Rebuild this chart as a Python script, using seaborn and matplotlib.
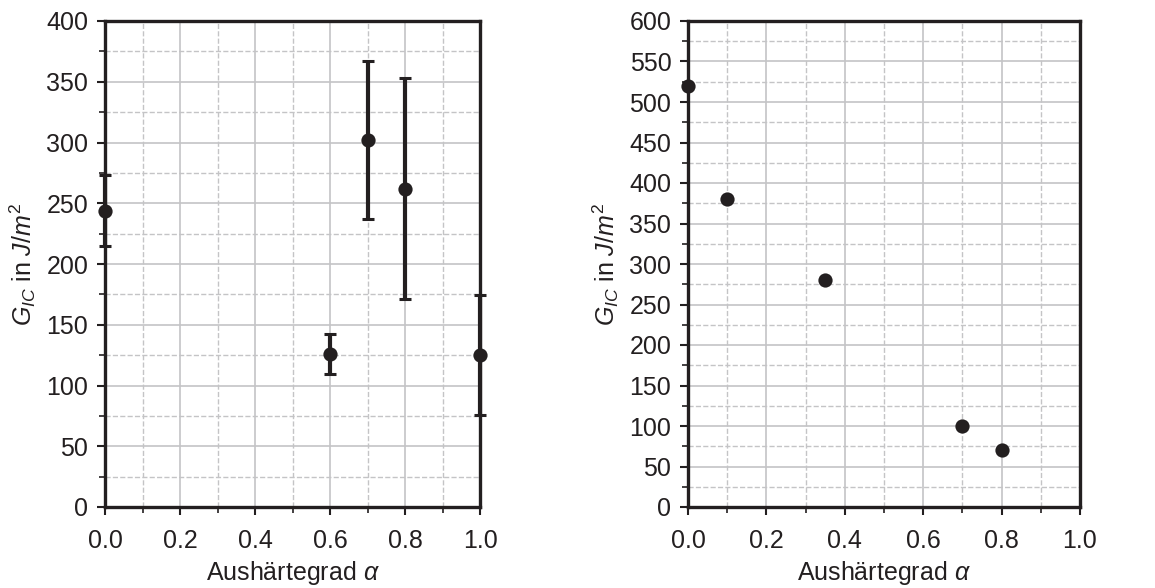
import matplotlib
matplotlib.use("Agg")
import matplotlib.pyplot as plt
import seaborn as sns
import pandas as pd
from matplotlib.ticker import MultipleLocator
from matplotlib import font_manager

# Data
alpha_left = [0.0, 0.6, 0.7, 0.8, 1.0]
gic_left = [244, 126, 302, 262, 125]
gic_left_err = [29, 16.5, 65, 91, 49.5]

alpha_right = [0.0, 0.1, 0.35, 0.7, 0.8]
gic_right = [520, 380, 280, 100, 70]

xticks = [0.0, 0.2, 0.4, 0.6, 0.8, 1.0]

names = sorted({f.name for f in font_manager.fontManager.ttflist})
fam = 'Liberation Sans Narrow' if 'Liberation Sans Narrow' in names else 'Liberation Sans'

sns.set_theme(style="white")
plt.rcParams['font.family'] = [fam, 'DejaVu Sans']
plt.rcParams['mathtext.fontset'] = 'custom'
plt.rcParams['mathtext.rm'] = fam
plt.rcParams['mathtext.it'] = fam + ':italic'
plt.rcParams['mathtext.bf'] = fam + ':bold'

dark = '#231f20'
fig = plt.figure(figsize=(11.55, 5.88), dpi=100)
ax1 = fig.add_axes([105/1155, 1-507/588, 375/1155, 486/588])
ax2 = fig.add_axes([688/1155, 1-507/588, 392/1155, 486/588])

df_l = pd.DataFrame({'alpha': alpha_left, 'gic': gic_left})
df_r = pd.DataFrame({'alpha': alpha_right, 'gic': gic_right})

ax1.errorbar(alpha_left, gic_left, yerr=gic_left_err, fmt='none', ecolor=dark,
             elinewidth=3.0, capsize=4.5, capthick=2.2, clip_on=False, zorder=3)
sns.scatterplot(data=df_l, x='alpha', y='gic', ax=ax1, color=dark, s=105,
                edgecolor=dark, linewidth=0, clip_on=False, zorder=4)
sns.scatterplot(data=df_r, x='alpha', y='gic', ax=ax2, color=dark, s=105,
                edgecolor=dark, linewidth=0, clip_on=False, zorder=4)

fs = 21 if fam.endswith('Narrow') else 18
for ax, ymax in ((ax1, 400), (ax2, 600)):
    ax.set_xlim(0, 1.0)
    ax.set_ylim(0, ymax)
    ax.set_xticks(xticks)
    ax.xaxis.set_minor_locator(MultipleLocator(0.1))
    ax.yaxis.set_major_locator(MultipleLocator(50))
    ax.yaxis.set_minor_locator(MultipleLocator(25))
    ax.grid(True, which='major', color='#c4c4c6', linestyle='-', linewidth=1.2)
    ax.grid(True, which='minor', color='#c4c4c6', linestyle='--', linewidth=1.0)
    ax.set_axisbelow(True)
    for sp in ax.spines.values():
        sp.set_color(dark)
        sp.set_linewidth(2.4)
        sp.set_visible(True)
    ax.tick_params(which='major', direction='out', length=6, width=1.5, color=dark,
                   labelsize=fs, labelcolor=dark, bottom=True, left=True, top=False, right=False, pad=6)
    ax.tick_params(axis='x', which='major', pad=10)
    ax.tick_params(which='minor', direction='out', length=4, width=1.2, color=dark,
                   bottom=True, left=True, top=False, right=False)
    ax.set_xlabel(r'Aushärtegrad $\alpha$', fontsize=fs, color=dark, labelpad=4)
    ax.set_ylabel(r'$G_{IC}$ in $J/m^2$', fontsize=fs, color=dark, labelpad=6)

fig.savefig('out.png', dpi=100)
